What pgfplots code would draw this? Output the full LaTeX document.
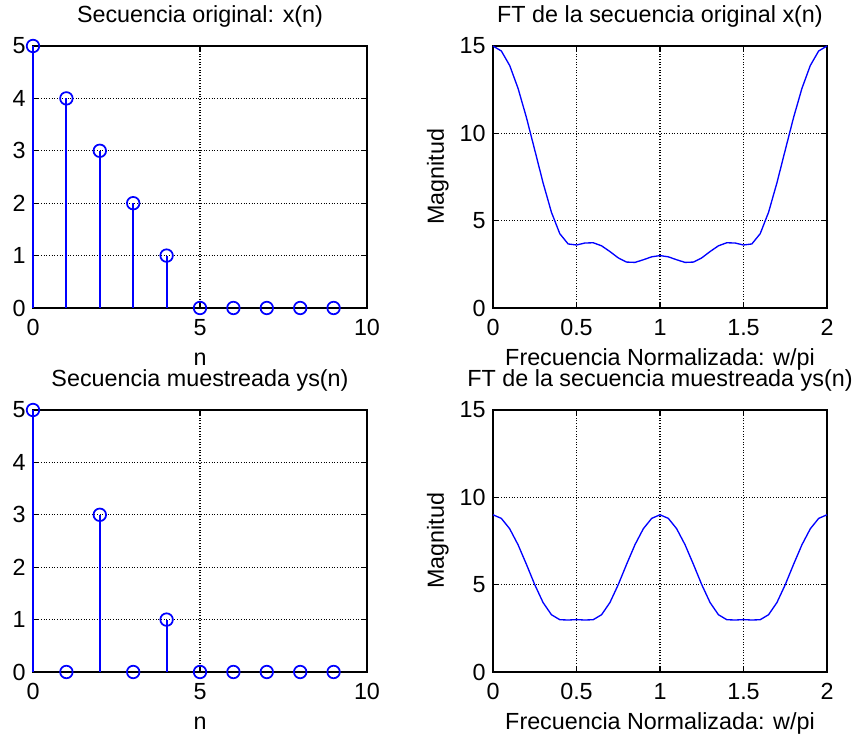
\documentclass[border=0pt]{standalone}
\usepackage{pgfplots}
\pgfplotsset{compat=1.18}
\usepackage{fontspec}
\setmainfont{Liberation Sans}
\begin{document}
\begin{tikzpicture}
\useasboundingbox (0pt,0pt) rectangle (643.5pt,553.5pt);
\pgfplotsset{
 mstyle/.style={
   width=250.5pt, height=196.5pt, scale only axis, clip=false,
   axis line style={black, line width=1.5pt},
   grid=major, grid style={black, line width=0.8pt, dash pattern=on 0.8pt off 1.2pt},
   tick align=inside, major tick length=4pt, tick style={black, line width=0.8pt},
   font=\fontsize{17.5}{20}\selectfont,
   ticklabel style={font=\fontsize{17.5}{20}\selectfont},
   /pgf/number format/assume math mode=true,
   xticklabel style={yshift=-5pt},
   yticklabel style={xshift=-2pt},
   every axis title/.style={at={(axis description cs:0.5,1.111)}, anchor=center},
   every axis x label/.style={at={(axis description cs:0.5,-0.195)}, anchor=center},
   every axis y label/.style={at={(axis description cs:-0.165,0.5)}, anchor=center, rotate=90},
 },
 stemstyle/.style={mstyle, xmin=0,xmax=10,ymin=0,ymax=5, xtick={0,5,10}, ytick={0,1,2,3,4,5}, xlabel={n}},
 ftstyle/.style={mstyle, xmin=0,xmax=2,ymin=0,ymax=15, xtick={0,0.5,1,1.5,2}, ytick={0,5,10,15}, ylabel={Magnitud}, xlabel={Frecuencia Normalizada: w/pi}},
 stemplot/.style={color=blue, draw=blue, line width=1.5pt, ycomb, mark=o, mark size=4.7pt, mark options={draw=blue, fill=none, line width=1.3pt}},
 ftplot/.style={blue, line width=1pt, no marks},
}
% top left
\begin{axis}[stemstyle, at={(24.75pt,322.5pt)}, anchor=south west, title={Secuencia original: x(n)}]
\addplot[stemplot] coordinates {(0,5) (1,4) (2,3) (3,2) (4,1) (5,0) (6,0) (7,0) (8,0) (9,0)};
\end{axis}
% top right
\begin{axis}[ftstyle, at={(369.75pt,322.5pt)}, anchor=south west, title={FT de la secuencia original x(n)}]
\addplot[ftplot] coordinates {
(0,15) (0.05,14.714) (0.1,13.882) (0.15,12.575) (0.2,10.911) (0.25,9.043) (0.3,7.158) (0.35,5.478) (0.4,4.253) (0.45,3.666)
(0.5,3.606) (0.55,3.719) (0.6,3.735) (0.65,3.561) (0.7,3.232) (0.75,2.869) (0.8,2.629) (0.85,2.610) (0.9,2.760) (0.95,2.929)
(1,3.000) (1.05,2.929) (1.1,2.760) (1.15,2.610) (1.2,2.629) (1.25,2.869) (1.3,3.232) (1.35,3.561) (1.4,3.735) (1.45,3.719)
(1.5,3.606) (1.55,3.666) (1.6,4.253) (1.65,5.478) (1.7,7.158) (1.75,9.043) (1.8,10.911) (1.85,12.575) (1.9,13.882) (1.95,14.714) (2,15)};
\end{axis}
% bottom left
\begin{axis}[stemstyle, at={(24.75pt,49.5pt)}, anchor=south west, title={Secuencia muestreada ys(n)}]
\addplot[stemplot] coordinates {(0,5) (1,0) (2,3) (3,0) (4,1) (5,0) (6,0) (7,0) (8,0) (9,0)};
\end{axis}
% bottom right
\begin{axis}[ftstyle, at={(369.75pt,49.5pt)}, anchor=south west, title={FT de la secuencia muestreada ys(n)}]
\addplot[ftplot] coordinates {
(0,9) (0.05,8.794) (0.1,8.198) (0.15,7.285) (0.2,6.167) (0.25,5) (0.3,3.973) (0.35,3.279) (0.4,2.994) (0.45,2.975)
(0.5,3) (0.55,2.975) (0.6,2.994) (0.65,3.279) (0.7,3.973) (0.75,5) (0.8,6.167) (0.85,7.285) (0.9,8.198) (0.95,8.794)
(1,9) (1.05,8.794) (1.1,8.198) (1.15,7.285) (1.2,6.167) (1.25,5) (1.3,3.973) (1.35,3.279) (1.4,2.994) (1.45,2.975)
(1.5,3) (1.55,2.975) (1.6,2.994) (1.65,3.279) (1.7,3.973) (1.75,5) (1.8,6.167) (1.85,7.285) (1.9,8.198) (1.95,8.794) (2,9)};
\end{axis}
\end{tikzpicture}
\end{document}
